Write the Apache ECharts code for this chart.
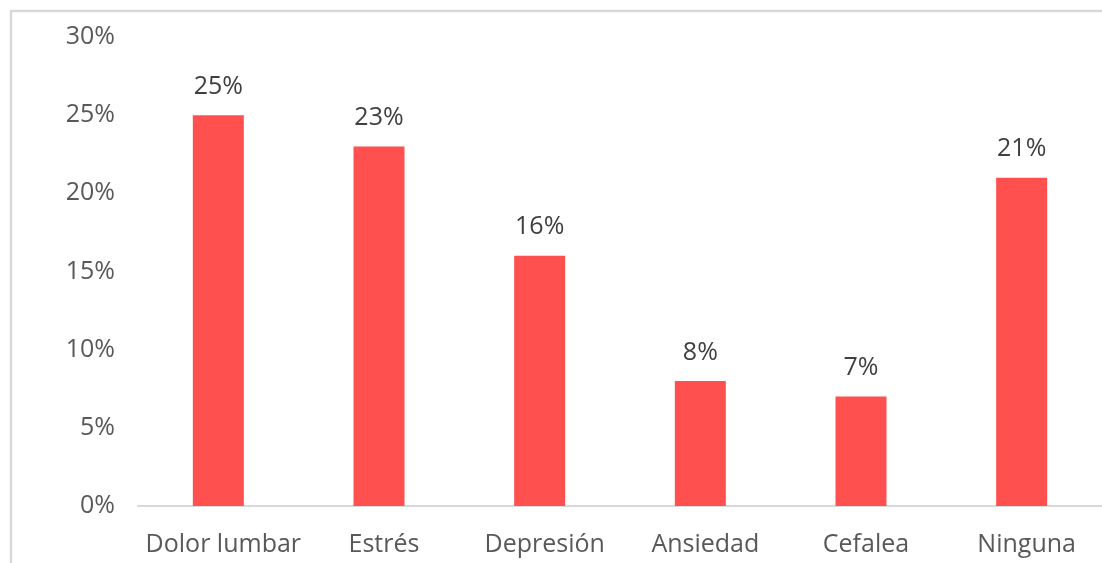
<!DOCTYPE html>
<html>
<head>
<meta charset="utf-8">
<script src="https://cdn.jsdelivr.net/npm/echarts@6/dist/echarts.min.js"></script>
<style>
html,body{margin:0;padding:0;background:#fff;}
#c{width:1102px;height:563px;}
</style>
</head>
<body>
<div id="c"></div>
<script>
const categories = ['Dolor lumbar', 'Estrés', 'Depresión', 'Ansiedad', 'Cefalea', 'Ninguna'];
const values = [25, 23, 16, 8, 7, 21];
const yTicks = [0, 5, 10, 15, 20, 25, 30];

const FONT = '"Open Sans", sans-serif';
const chart = echarts.init(document.getElementById('c'));
chart.setOption({
  animation: false,
  graphic: [{
    type: 'rect',
    shape: {x: 11, y: 11, width: 1100, height: 560},
    style: {fill: 'none', stroke: '#d9d9d9', lineWidth: 2.5},
    silent: true
  }],
  grid: {left: 138, width: 966, top: 37, height: 469},
  xAxis: {
    type: 'category',
    data: categories,
    axisLine: {show: true, lineStyle: {color: '#d9d9d9', width: 2}},
    axisTick: {show: false},
    axisLabel: {color: '#595959', fontFamily: FONT, fontSize: 25, margin: 26, interval: 0, padding: [0, 0, 0, 10]}
  },
  yAxis: {
    type: 'value',
    min: yTicks[0],
    max: yTicks[yTicks.length - 1],
    interval: 5,
    axisLine: {show: false},
    axisTick: {show: false},
    splitLine: {show: false},
    axisLabel: {color: '#595959', fontFamily: FONT, fontSize: 25, margin: 23, formatter: v => v + '%'}
  },
  series: [{
    type: 'bar',
    data: values,
    barWidth: 51,
    itemStyle: {color: '#ff5050'},
    label: {
      show: true,
      position: 'top',
      distance: 16,
      color: '#404040',
      fontFamily: FONT,
      fontSize: 25,
      formatter: p => p.value + '%'
    }
  }]
});
</script>
</body>
</html>
